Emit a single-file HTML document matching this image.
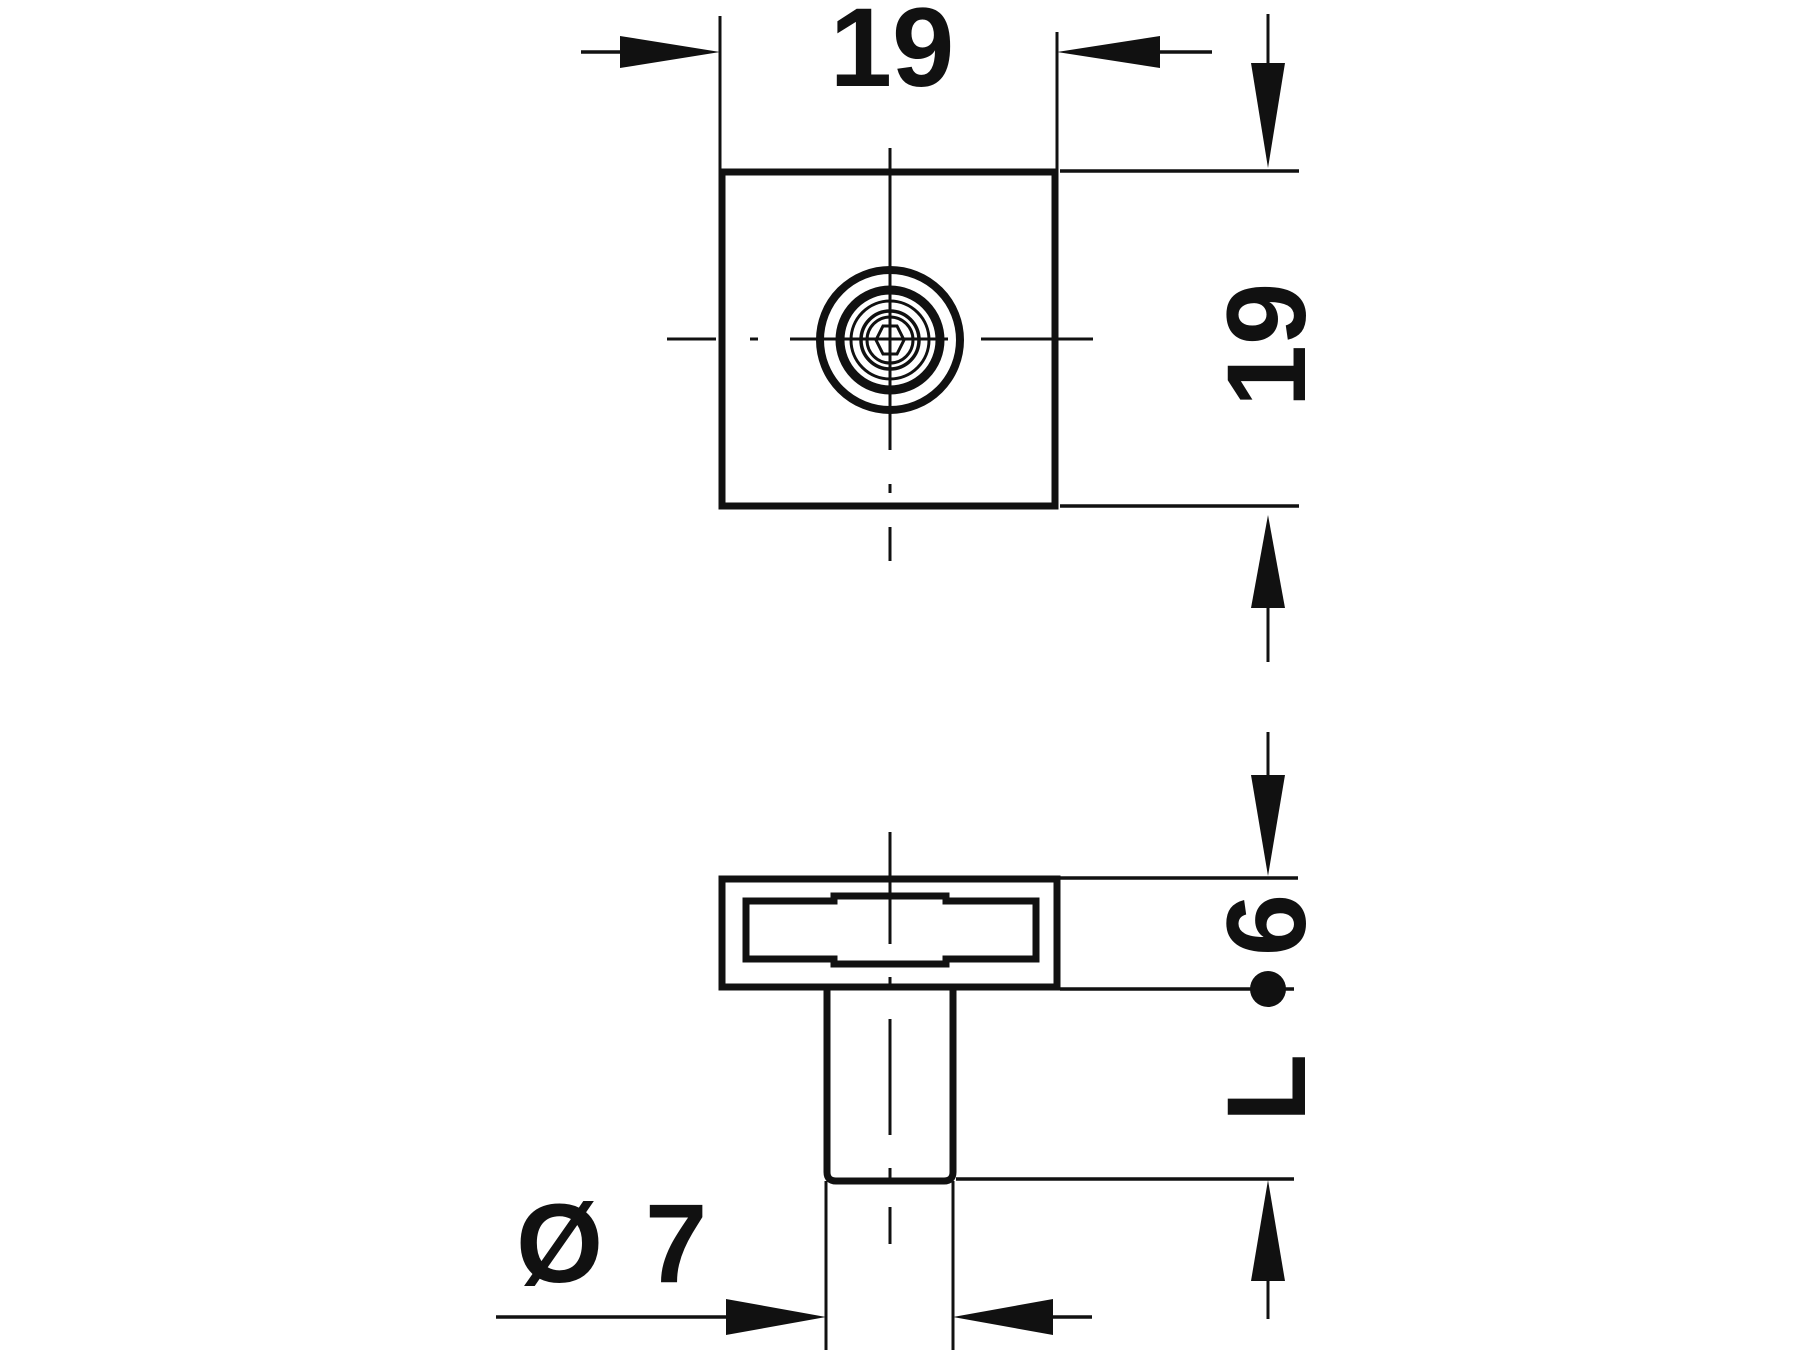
<!DOCTYPE html>
<html><head><meta charset="utf-8"><style>
html,body{margin:0;padding:0;background:#fff;}
svg{display:block;}
</style></head><body>
<svg width="1800" height="1350" viewBox="0 0 1800 1350" xmlns="http://www.w3.org/2000/svg">
<g stroke="#111" fill="none" stroke-linecap="butt">
<line x1="720" y1="16" x2="720" y2="170" stroke-width="3"/>
<line x1="1057" y1="32" x2="1057" y2="170" stroke-width="3"/>
<line x1="581" y1="52" x2="622" y2="52" stroke-width="3.5"/>
<line x1="1160" y1="52" x2="1212" y2="52" stroke-width="3.5"/>
<rect x="722" y="172" width="333" height="334" stroke-width="7"/>
<line x1="890" y1="148" x2="890" y2="450" stroke-width="3"/>
<line x1="890" y1="484" x2="890" y2="493" stroke-width="3"/>
<line x1="890" y1="527" x2="890" y2="561" stroke-width="3"/>
<line x1="667" y1="339" x2="716" y2="339" stroke-width="3"/>
<line x1="750" y1="339" x2="758" y2="339" stroke-width="3"/>
<line x1="790" y1="339" x2="948" y2="339" stroke-width="3"/>
<line x1="981" y1="339" x2="1093" y2="339" stroke-width="3"/>
<circle cx="890" cy="340" r="70" stroke-width="8"/>
<circle cx="890" cy="340" r="50" stroke-width="9"/>
<circle cx="890" cy="340" r="39" stroke-width="3"/>
<circle cx="890" cy="340" r="29" stroke-width="3.5"/>
<circle cx="890" cy="340" r="23" stroke-width="3"/>
<polygon points="876,340 883,326 897,326 904,340 897,354 883,354" stroke-width="3"/>
<line x1="1060" y1="171" x2="1299" y2="171" stroke-width="3.5"/>
<line x1="1060" y1="506" x2="1299" y2="506" stroke-width="3.5"/>
<line x1="1268" y1="14" x2="1268" y2="65" stroke-width="3"/>
<line x1="1268" y1="605" x2="1268" y2="662" stroke-width="3"/>
<line x1="1268" y1="732" x2="1268" y2="776" stroke-width="3"/>
<rect x="722" y="879" width="335" height="108" stroke-width="7"/>
<path d="M746,901 H834 V896 H946 V901 H1036 V959 H946 V964 H834 V959 H746 Z" stroke-width="7" stroke-linejoin="miter"/>
<path d="M827,989 V1172 Q827,1181 836,1181 H944 Q953,1181 953,1172 V989" stroke-width="7"/>
<line x1="826" y1="1181" x2="826" y2="1350" stroke-width="3"/>
<line x1="953" y1="1181" x2="953" y2="1350" stroke-width="3"/>
<line x1="890" y1="832" x2="890" y2="944" stroke-width="3"/>
<line x1="890" y1="977" x2="890" y2="986" stroke-width="3"/>
<line x1="890" y1="1019" x2="890" y2="1135" stroke-width="3"/>
<line x1="890" y1="1168" x2="890" y2="1179" stroke-width="3"/>
<line x1="890" y1="1207" x2="890" y2="1244" stroke-width="3"/>
<line x1="1060" y1="878" x2="1298" y2="878" stroke-width="3.5"/>
<line x1="1060" y1="989" x2="1294" y2="989" stroke-width="3.5"/>
<line x1="956" y1="1179" x2="1294" y2="1179" stroke-width="3.5"/>
<line x1="1268" y1="1279" x2="1268" y2="1319" stroke-width="3"/>
<line x1="496" y1="1317" x2="728" y2="1317" stroke-width="3.5"/>
<line x1="1051" y1="1317" x2="1092" y2="1317" stroke-width="3.5"/>
</g>
<g fill="#111">
<polygon points="720,52 620,36 620,68"/>
<polygon points="1057,52 1160,36 1160,68"/>
<polygon points="1268,168 1251,63 1285,63"/>
<polygon points="1268,515 1251,608 1285,608"/>
<polygon points="1268,876 1251,775 1285,775"/>
<polygon points="1268,1180 1251,1281 1285,1281"/>
<circle cx="1268" cy="989" r="18"/>
<polygon points="826,1317 726,1299 726,1335"/>
<polygon points="953,1317 1053,1299 1053,1335"/>
</g>
<g style="font-family: Arial, 'Liberation Sans', Helvetica, sans-serif; font-weight: bold;" fill="#111" font-size="112">
<text x="892" y="86" text-anchor="middle">19</text>
<text transform="translate(1305,345) rotate(-90)" text-anchor="middle">19</text>
<text transform="translate(1305,925) rotate(-90)" text-anchor="middle">6</text>
<text transform="translate(1305,1088) rotate(-90)" text-anchor="middle">L</text>
<text x="516" y="1282">Ø</text>
<text x="645" y="1282">7</text>
</g>
</svg>
</body></html>
